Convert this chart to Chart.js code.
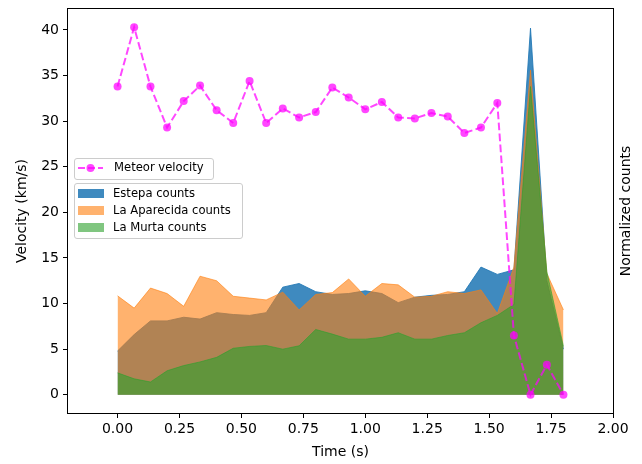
<!DOCTYPE html>
<html>
<head>
<meta charset="utf-8">
<script src="https://cdn.jsdelivr.net/npm/chart.js@4"></script>
<style>
  body { margin: 0; background: #fff; }
</style>
</head>
<body>
<canvas id="myChart" width="642" height="464"></canvas>
<script>
// time stamps of each frame (s)
const times = [0.000, 0.067, 0.133, 0.200, 0.267, 0.333, 0.400, 0.467, 0.533, 0.600,
  0.667, 0.733, 0.800, 0.867, 0.933, 1.000, 1.067, 1.133, 1.200, 1.267,
  1.333, 1.400, 1.467, 1.533, 1.600, 1.667, 1.733, 1.800];

// meteor velocity (km/s)
const velocity = [33.8, 40.3, 33.8, 29.3, 32.2, 33.9, 31.2, 29.8, 34.4, 29.8,
  31.4, 30.4, 31.0, 33.7, 32.6, 31.3, 32.1, 30.4, 30.3, 30.9,
  30.5, 28.7, 29.3, 32.0, 6.5, 0.0, 3.3, 0.0];

// normalized counts per station
const estepa = [4.8, 6.6, 8.1, 8.1, 8.5, 8.3, 9.0, 8.8, 8.7, 9.0,
  11.8, 12.2, 11.3, 11.0, 11.1, 11.4, 11.1, 10.1, 10.7, 10.9,
  11.0, 11.3, 14.0, 13.2, 13.7, 40.2, 12.5, 5.0];
const aparecida = [10.85, 9.5, 11.7, 11.1, 9.7, 13.0, 12.5, 10.8, 10.6, 10.4,
  11.25, 9.3, 11.0, 11.2, 12.7, 10.8, 12.2, 12.05, 10.7, 10.8,
  11.3, 11.1, 11.5, 8.9, 14.0, 35.6, 13.3, 9.3];
const murta = [2.4, 1.75, 1.4, 2.63, 3.2, 3.6, 4.1, 5.1, 5.3, 5.4,
  5.0, 5.37, 7.16, 6.65, 6.1, 6.1, 6.3, 6.8, 6.1, 6.1,
  6.5, 6.8, 7.9, 8.7, 9.9, 33.8, 13.5, 5.3];

const xTicks = [0, 0.25, 0.5, 0.75, 1.0, 1.25, 1.5, 1.75, 2.0];
const yTicks = [0, 5, 10, 15, 20, 25, 30, 35, 40];

const FONT = "'DejaVu Sans', sans-serif";
const magenta = "rgba(255,0,255,0.72)";
const blue = "rgba(31,119,180,0.86)";
const orange = "rgba(255,127,14,0.6)";
const green = "rgba(44,160,44,0.6)";

function toPoints(ys) {
  return times.map((t, i) => ({ x: t, y: ys[i] }));
}

function areaSet(label, values, color) {
  return {
    label: label,
    data: toPoints(values),
    backgroundColor: color,
    borderColor: color,
    borderWidth: 1,
    pointRadius: 0,
    fill: "origin",
    tension: 0,
  };
}

// frame, axis titles and the two legend boxes
const decorations = {
  id: "decorations",
  afterDraw(chart) {
    const ctx = chart.ctx;
    const a = chart.chartArea;
    ctx.save();

    ctx.strokeStyle = "#000";
    ctx.lineWidth = 1;
    ctx.strokeRect(a.left - 0.5, a.top - 0.5, a.right - a.left + 1, a.bottom - a.top + 1);

    ctx.fillStyle = "#000";
    ctx.font = "14px " + FONT;
    ctx.textAlign = "center";
    ctx.textBaseline = "middle";
    ctx.fillText("Time (s)", (a.left + a.right) / 2, 452);

    ctx.save();
    ctx.translate(22, (a.top + a.bottom) / 2);
    ctx.rotate(-Math.PI / 2);
    ctx.fillText("Velocity (km/s)", 0, 0);
    ctx.restore();

    ctx.save();
    ctx.translate(626, (a.top + a.bottom) / 2);
    ctx.rotate(-Math.PI / 2);
    ctx.fillText("Normalized counts", 0, 0);
    ctx.restore();

    const ds = chart.data.datasets;
    ctx.font = "11.6px " + FONT;
    ctx.textAlign = "left";

    // legend for the velocity line
    drawBox(ctx, 74.5, 158.5, 139, 21);
    ctx.strokeStyle = magenta;
    ctx.lineWidth = 2;
    ctx.setLineDash([7, 3]);
    ctx.beginPath();
    ctx.moveTo(78, 168);
    ctx.lineTo(103, 168);
    ctx.stroke();
    ctx.setLineDash([]);
    ctx.fillStyle = magenta;
    ctx.beginPath();
    ctx.arc(90.5, 168, 4, 0, Math.PI * 2);
    ctx.fill();
    ctx.fillStyle = "#000";
    ctx.fillText(ds[0].label, 114, 168);

    // legend for the station counts
    drawBox(ctx, 74.5, 183.5, 168, 55);
    const rows = [ds[3], ds[2], ds[1]];
    rows.forEach((d, i) => {
      const cy = 193.5 + i * 17;
      ctx.fillStyle = d.backgroundColor;
      ctx.fillRect(78, cy - 4.5, 26, 9);
      ctx.fillStyle = "#000";
      ctx.fillText(d.label, 113, cy);
    });

    ctx.restore();
  },
};

function drawBox(ctx, x, y, w, h) {
  ctx.save();
  ctx.fillStyle = "rgba(255,255,255,0.8)";
  ctx.strokeStyle = "#cccccc";
  ctx.lineWidth = 1;
  ctx.beginPath();
  ctx.roundRect(x, y, w, h, 2.5);
  ctx.fill();
  ctx.stroke();
  ctx.restore();
}

const config = {
  type: "line",
  data: {
    datasets: [
      {
        label: "Meteor velocity",
        data: toPoints(velocity),
        borderColor: magenta,
        backgroundColor: magenta,
        borderWidth: 2,
        borderDash: [7.7, 3.3],
        pointRadius: 4,
        pointBorderWidth: 0,
        pointBackgroundColor: magenta,
        fill: false,
        tension: 0,
      },
      areaSet("La Murta counts", murta, green),
      areaSet("La Aparecida counts", aparecida, orange),
      areaSet("Estepa counts", estepa, blue),
    ],
  },
  options: {
    responsive: false,
    animation: false,
    layout: { padding: { top: 9, right: 29, left: 0, bottom: 0 } },
    plugins: {
      legend: { display: false },
      tooltip: { enabled: false },
    },
    scales: {
      x: {
        type: "linear",
        min: -0.2,
        max: 2.0,
        afterBuildTicks: (axis) => {
          axis.ticks = xTicks.map((v) => ({ value: v }));
        },
        afterFit: (axis) => {
          axis.height = 51;
          axis.paddingLeft = 0;
          axis.paddingRight = 0;
        },
        ticks: {
          color: "#000",
          font: { family: FONT, size: 14 },
          padding: 3,
          maxRotation: 0,
          callback: (v) => Number(v).toFixed(2),
        },
        grid: { drawOnChartArea: false, color: "#000", tickLength: 5 },
        border: { display: false },
      },
      y: {
        min: -2.0,
        max: 42.3,
        afterBuildTicks: (axis) => {
          axis.ticks = yTicks.map((v) => ({ value: v }));
        },
        afterFit: (axis) => {
          axis.width = 68;
          axis.paddingTop = 0;
          axis.paddingBottom = 0;
        },
        ticks: {
          color: "#000",
          font: { family: FONT, size: 14 },
          padding: 4,
        },
        grid: { drawOnChartArea: false, color: "#000", tickLength: 5 },
        border: { display: false },
      },
    },
  },
  plugins: [decorations],
};

const myChart = new Chart(document.getElementById("myChart"), config);
</script>
</body>
</html>
